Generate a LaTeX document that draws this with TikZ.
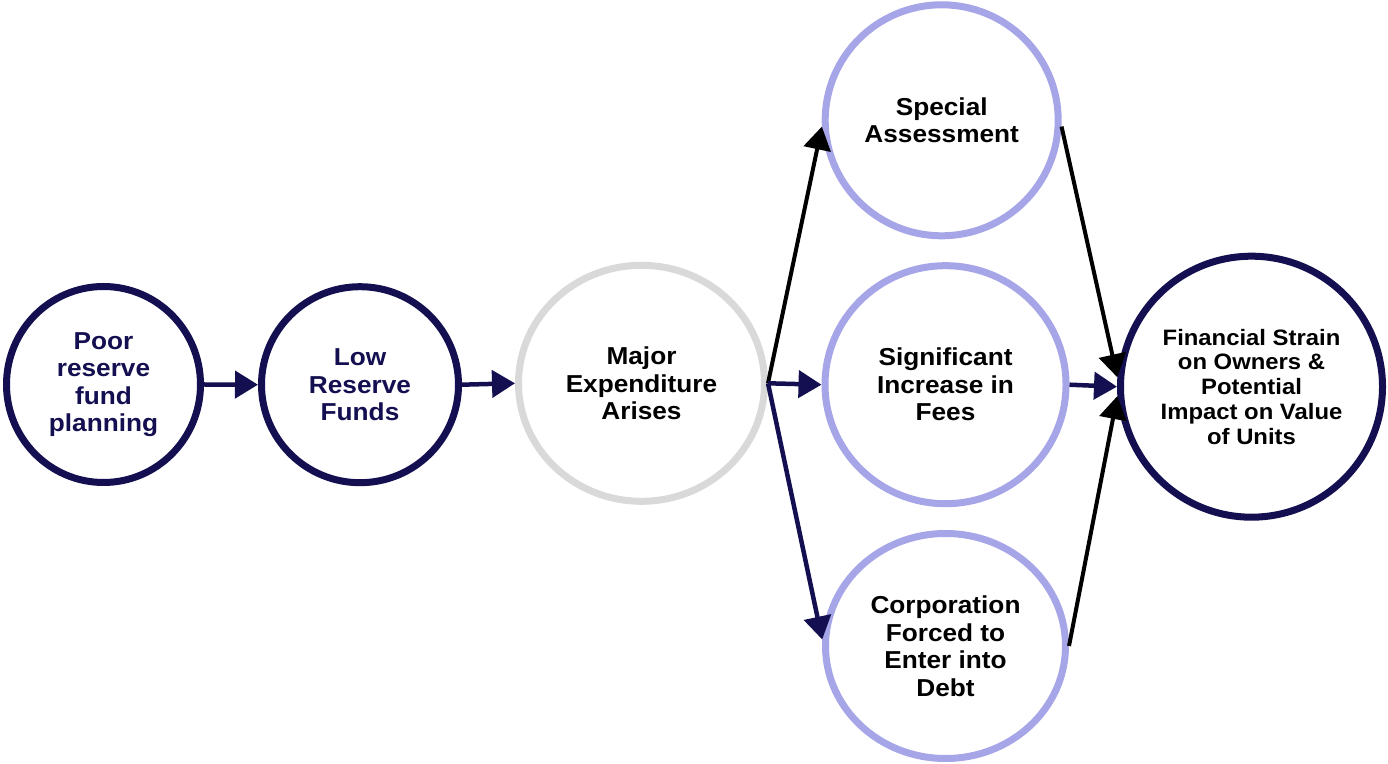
\documentclass[tikz,border=0pt]{standalone}
\usepackage{fontspec}
\setmainfont{Liberation Sans}[FakeStretch=1.07]
\usetikzlibrary{arrows.meta,shapes.geometric}
\definecolor{cnavy}{HTML}{140F50}
\definecolor{clav}{HTML}{A5A5E8}
\definecolor{cgrey}{HTML}{D9D9D9}
\tikzset{
  bub/.style={ellipse, draw, line width=7pt, fill=white, align=center, inner sep=0pt,
    font=\fontsize{24.5}{27.5}\selectfont\bfseries},
  conn/.style={line width=4.5pt, -{Triangle[length=23pt,width=27pt]}},
  connblk/.style={line width=4pt, black, -{Triangle[length=23pt,width=27pt]}},
}
\begin{document}
\begin{tikzpicture}[x=1pt,y=1pt]
\useasboundingbox (0,0) rectangle (1388,763);
\node[bub, draw=cnavy, text=cnavy, minimum width=194pt, minimum height=196pt] (poor) at (103.5,378.5) {Poor\\reserve\\fund\\planning};
\node[bub, draw=cnavy, text=cnavy, minimum width=197pt, minimum height=196pt] (low) at (360,378.3) {Low\\Reserve\\Funds};
\node[bub, draw=cgrey, minimum width=246pt, minimum height=236pt] (maj) at (641.5,379.7) {Major\\Expenditure\\Arises};
\node[bub, draw=clav, minimum width=233pt, minimum height=231pt] (spec) at (941.7,642.7) {Special\\Assessment};
\node[bub, draw=clav, minimum width=241pt, minimum height=238pt] (sig) at (945.5,378.3) {Significant\\Increase in\\Fees};
\node[bub, draw=clav, minimum width=240pt, minimum height=225pt] (corp) at (945.5,117) {Corporation\\Forced to\\Enter into\\Debt};
\node[bub, draw=cnavy, minimum width=262pt, minimum height=261pt, font=\fontsize{22.3}{24.8}\selectfont\bfseries] (fin) at (1251.5,376.3) {Financial Strain\\on Owners \&\\Potential\\Impact on Value\\of Units};
\draw[conn, cnavy] (poor.east) -- (low.west);
\draw[conn, cnavy] (low.east) -- (maj.west);
\draw[connblk] (maj.east) -- (spec.183);
\draw[conn, cnavy] (maj.east) -- (sig.west);
\draw[conn, cnavy] (maj.east) -- (corp.177);
\draw[connblk] (spec.357) -- (fin.176);
\draw[conn, cnavy] (sig.east) -- (fin.west);
\draw[connblk] (corp.east) -- (fin.184);
\end{tikzpicture}
\end{document}
